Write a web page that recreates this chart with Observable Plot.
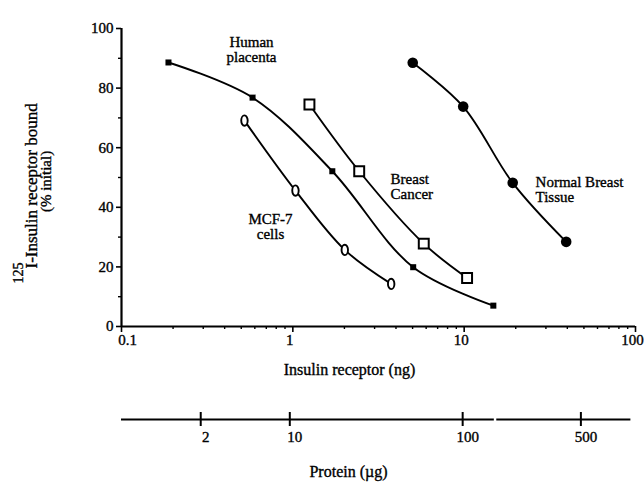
<!DOCTYPE html>
<html>
<head>
<meta charset="utf-8">
<script src="https://cdn.jsdelivr.net/npm/d3@7"></script>
<script src="https://cdn.jsdelivr.net/npm/@observablehq/plot@0.6"></script>
<style>
  html, body { margin: 0; padding: 0; background: white; font-family: "Liberation Serif", serif; }
  #chart svg { display: block; }
  #chart svg, #chart svg text { font-family: "Liberation Serif", serif !important; }
  #chart svg text { stroke: black; stroke-width: 0.35px; }
</style>
</head>
<body>
<div id="chart"></div>
<script>
// ---- Data ----
const placentaNg   = [0.188, 0.582, 1.70, 5.04, 14.8];
const placentaPct  = [88.6, 76.8, 52.1, 19.9, 7.0];

const mcf7Ng       = [0.522, 1.036, 2.01, 3.75];
const mcf7Pct      = [69.1, 45.6, 25.7, 14.3];

const cancerNg     = [1.25, 2.44, 5.81, 10.4];
const cancerPct    = [74.5, 52.1, 27.8, 16.3];

const normalNg     = [5.01, 9.87, 19.2, 39.4];
const normalPct    = [88.5, 73.8, 48.2, 28.4];

const xMajorTicks  = [0.1, 1, 10, 100];
const xTickLabels  = ["0.1", "1", "10", "100"];
const xMinorTicks  = [0.2,0.3,0.4,0.5,0.6,0.7,0.8,0.9, 2,3,4,5,6,7,8,9, 20,30,40,50,60,70,80,90];
const yMajorTicks  = [0, 20, 40, 60, 80, 100];
const yMinorTicks  = [10, 30, 50, 70, 90];

// protein (µg) axis: tick labels and where they sit on the ng scale
const proteinTicks   = [2, 10, 100, 500];
const proteinTickNg  = [0.29, 0.96, 9.8, 48];
const proteinSegFrom = [0.1, 15.5];
const proteinSegTo   = [15.0, 94];

// series annotations
const labelText = ["Human\nplacenta", "MCF-7\ncells", "Breast\nCancer", "Normal Breast\nTissue"];
const labelNg   = [0.574, 0.741, 3.72, 26.1];
const labelPct  = [93.0, 33.6, 47.0, 46.0];
const labelAnchor = ["middle", "middle", "start", "start"];

// ---- Build tables ----
const mk = (name, xs, ys) => xs.map((x, i) => ({series: name, ng: x, pct: ys[i]}));
const placenta = mk("placenta", placentaNg, placentaPct);
const mcf7 = mk("mcf7", mcf7Ng, mcf7Pct);
const cancer = mk("cancer", cancerNg, cancerPct);
const normal = mk("normal", normalNg, normalPct);
const all = [...placenta, ...mcf7, ...cancer, ...normal];
const labels = labelText.map((t, i) => ({text: t, ng: labelNg[i], pct: labelPct[i], anchor: labelAnchor[i]}));

const ellipse = {
  draw(context, size) {
    const ry = Math.sqrt(size / Math.PI), rx = ry * 0.62, k = 0.5523;
    context.moveTo(rx, 0);
    context.bezierCurveTo(rx, k * ry, k * rx, ry, 0, ry);
    context.bezierCurveTo(-k * rx, ry, -rx, k * ry, -rx, 0);
    context.bezierCurveTo(-rx, -k * ry, -k * rx, -ry, 0, -ry);
    context.bezierCurveTo(k * rx, -ry, rx, -k * ry, rx, 0);
    context.closePath();
  }
};

const font = '"Liberation Serif", serif';
const W = 644, ML = 121, MR = 9;
const fmtX = d => xTickLabels[xMajorTicks.indexOf(d)];

const main = Plot.plot({
  width: W, height: 395,
  marginLeft: ML, marginRight: MR, marginTop: 28, marginBottom: 69,
  style: {fontFamily: font, fontSize: "15px", color: "black", background: "white", overflow: "visible"},
  x: {type: "log", domain: [0.1, 100]},
  y: {domain: [0, 100]},
  marks: [
    Plot.axisY(yMajorTicks, {tickSize: 5, tickPadding: 3, strokeWidth: 1.6, fontSize: 15, label: null, tickFormat: d => String(d)}),
    Plot.axisY(yMinorTicks, {tickSize: 3, strokeWidth: 1.4, label: null, tickFormat: () => ""}),
    Plot.axisX(xMajorTicks, {tickSize: 6, strokeWidth: 1.6, label: null, tickFormat: () => ""}),
    Plot.axisX(xMajorTicks.slice(0, 1), {tickSize: 6, tickPadding: 2, stroke: "none", fontSize: 15, label: null, dx: 6, tickFormat: fmtX}),
    Plot.axisX(xMajorTicks.slice(1), {tickSize: 6, tickPadding: 2, stroke: "none", fontSize: 15, label: null, dx: -3, tickFormat: fmtX}),
    Plot.axisX(xMinorTicks, {tickSize: 3, strokeWidth: 1.4, label: null, tickFormat: () => ""}),
    Plot.ruleX([0.1], {strokeWidth: 2.2}),
    Plot.ruleY([0], {strokeWidth: 2.2}),
    Plot.line(all, {x: "ng", y: "pct", z: "series", curve: "catmull-rom", stroke: "black", strokeWidth: 1.9}),
    Plot.dot(placenta, {x: "ng", y: "pct", symbol: "square", r: 3.4, fill: "black"}),
    Plot.dot(normal, {x: "ng", y: "pct", symbol: "circle", r: 5.3, fill: "black"}),
    Plot.dot(cancer, {x: "ng", y: "pct", symbol: "square", r: 5.6, fill: "white", stroke: "black", strokeWidth: 2}),
    Plot.dot(mcf7, {x: "ng", y: "pct", symbol: ellipse, r: 5.2, fill: "white", stroke: "black", strokeWidth: 1.9}),
    Plot.text(labels.filter(d => d.anchor === "middle"), {x: "ng", y: "pct", text: "text", textAnchor: "middle", fontSize: 15, lineHeight: 1.05, fill: "black"}),
    Plot.text(labels.filter(d => d.anchor === "start"), {x: "ng", y: "pct", text: "text", textAnchor: "start", fontSize: 15, lineHeight: 1.05, fill: "black"}),
    Plot.text(["Insulin receptor (ng)"], {frameAnchor: "bottom", dx: -29, dy: 48, fontSize: 16, fill: "black"}),
    Plot.text(["125"], {frameAnchor: "left", rotate: -90, lineAnchor: "bottom", textAnchor: "start", dx: -99, dy: 106, fontSize: 14, fill: "black"}),
    Plot.text(["I-Insulin receptor bound"], {frameAnchor: "left", rotate: -90, lineAnchor: "bottom", textAnchor: "start", dx: -85, dy: 91, fontSize: 17, fill: "black"}),
    Plot.text(["(% initial)"], {frameAnchor: "left", rotate: -90, lineAnchor: "bottom", textAnchor: "middle", dx: -71, dy: 4, fontSize: 15, fill: "black"})
  ]
});

const protein = proteinTicks.map((t, i) => ({label: String(t), ng: proteinTickNg[i]}));
const segs = proteinSegFrom.map((f, i) => ({from: f, to: proteinSegTo[i]}));

const bottom = Plot.plot({
  width: W, height: 90,
  marginLeft: ML, marginRight: MR, marginTop: 17, marginBottom: 59,
  style: {fontFamily: font, fontSize: "15px", color: "black", background: "white", overflow: "visible"},
  x: {type: "log", domain: [0.1, 100], axis: null},
  y: {domain: [0, 1], axis: null},
  marks: [
    Plot.ruleY(segs, {x1: "from", x2: "to", y: () => 0.5, strokeWidth: 2}),
    Plot.tickX(protein, {x: "ng", strokeWidth: 2}),
    Plot.text(protein, {x: "ng", text: "label", frameAnchor: "bottom", dx: 5, dy: 15, fontSize: 15, fill: "black"}),
    Plot.text(["Protein (µg)"], {frameAnchor: "bottom", dx: -30, dy: 50, fontSize: 16, fill: "black"})
  ]
});

const el = document.getElementById("chart");
el.appendChild(main);
el.appendChild(bottom);
</script>
</body>
</html>
